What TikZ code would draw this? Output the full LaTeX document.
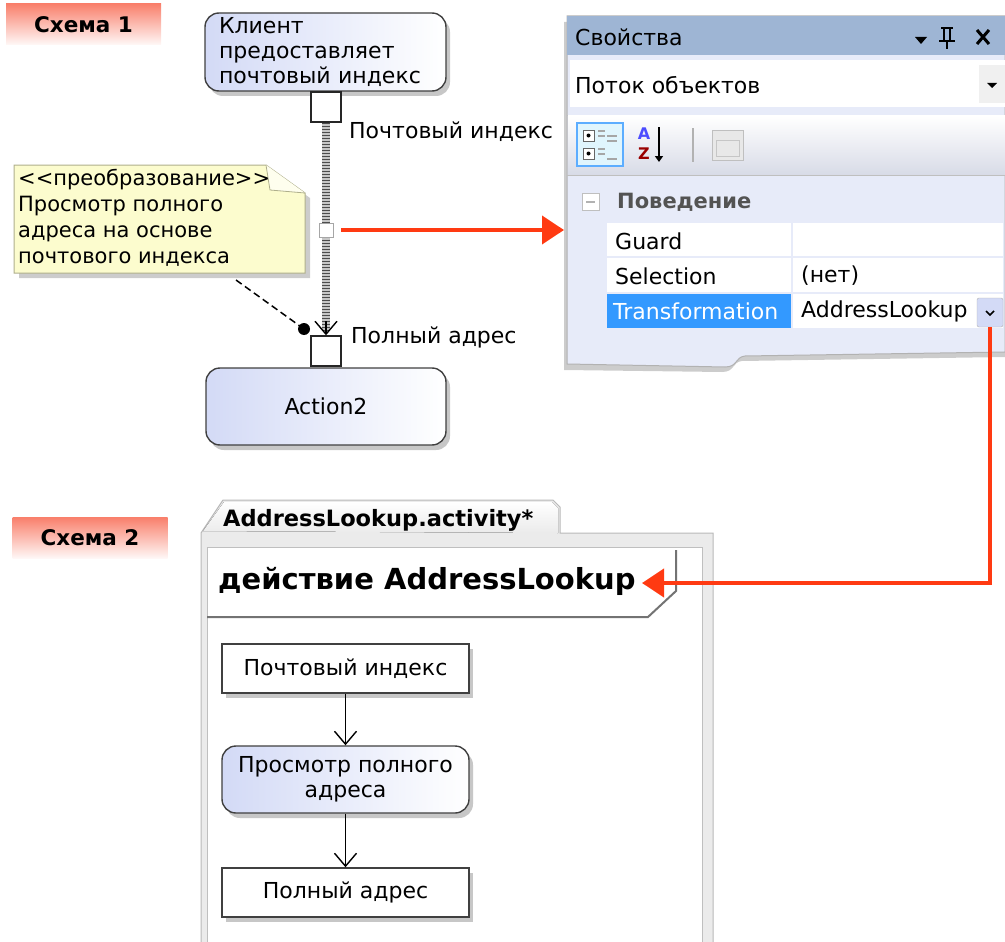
\documentclass[tikz,border=0pt]{standalone}
\usepackage{fontspec}
\setmainfont{DejaVu Sans}
\usetikzlibrary{arrows.meta,shadows}

\definecolor{actfill}{RGB}{211,218,246}
\definecolor{notefill}{RGB}{252,252,206}
\definecolor{noteline}{RGB}{175,175,140}
\definecolor{flowred}{RGB}{255,58,18}
\definecolor{tagred}{RGB}{249,128,108}
\definecolor{titlebar}{RGB}{158,181,212}
\definecolor{panelbg}{RGB}{231,235,249}
\definecolor{selblue}{RGB}{51,153,255}

\tikzset{
  txt/.style={font=\fontsize{22}{25}\selectfont},
  tag/.style={top color=tagred,bottom color=tagred!5,minimum width=155pt,minimum height=41pt,inner sep=0pt,font=\bfseries\fontsize{21.5}{24}\selectfont},
  action/.style={draw=black!75,line width=1.4pt,rounded corners=14pt,left color=actfill,right color=white,drop shadow={shadow xshift=4pt,shadow yshift=-5pt,fill=black!22,opacity=1},txt},
  objbox/.style={draw=black!75,line width=1.4pt,fill=white,minimum width=247pt,minimum height=49pt,drop shadow={shadow xshift=4pt,shadow yshift=-5pt,fill=black!22,opacity=1},txt},
  pin/.style={draw=black!85,line width=1.4pt,fill=white,minimum size=30pt,inner sep=0pt},
  flowarrow/.style={line width=1.4pt,-{Straight Barb[length=13pt,width=22pt]}},
  redarrow/.style={flowred,line width=4pt,-{Triangle[length=22pt,width=28pt]}},
  cell/.style={txt,anchor=west,inner sep=0pt},
}

\begin{document}
\begin{tikzpicture}[x=1pt,y=-1pt]
\path[use as bounding box] (0,0) rectangle (1005,942);
% Схема 1
\node[tag] (tag1) at (83.5,24.5) {Схема 1};
\node[action,minimum width=241pt,minimum height=78pt,inner xsep=14pt,text width=213pt,align=left] (client) at (325.5,52) {Клиент\\предоставляет\\почтовый индекс};
\node[action,minimum width=240pt,minimum height=77pt] (act2) at (326,406.5) {Action2};
\node[pin] (pinIn) at (326,107) {};
\node[pin] (pinOut) at (326,351) {};
\draw[gray!45,line width=8pt] (pinIn.south) -- ([yshift=5pt]pinOut.north);
\draw[black!70,line width=8pt,dash pattern=on 1.6pt off 1.4pt] (pinIn.south) -- ([yshift=5pt]pinOut.north);
\draw[flowarrow] ([yshift=14pt]pinOut.north) -- (pinOut.north);
\node[draw=gray!70,fill=white,minimum size=14pt,inner sep=0pt] (mid) at (326,230) {};
\node[cell] (lblIn) at (349,132) {Почтовый индекс};
\node[cell] (lblOut) at (351,337) {Полный адрес};
% примечание
\fill[black!20] (19,170) -- (271,170) -- (310,198) -- (310,278) -- (19,278) -- cycle;
\draw[noteline,fill=notefill,line width=1pt] (14,165) -- (266,165) -- (305,193) -- (305,273) -- (14,273) -- cycle;
\draw[noteline,fill=notefill!35!white,line width=.8pt] (266,165) -- (270,190) -- (305,193);
\node[anchor=north west,inner sep=0pt,align=left,font=\fontsize{21}{26}\selectfont] (note) at (18,169) {<\kern0pt<преобразование>\kern0pt>\\Просмотр полного\\адреса на основе\\почтового индекса};
\coordinate (noteFoot) at (236,280);
\coordinate (dot) at (304,329);
\draw[line width=1.5pt,dash pattern=on 7pt off 4pt] (noteFoot) -- (dot);
\fill (dot) circle (6pt);
\coordinate (panelEdge) at (564,230);
\draw[redarrow] ([xshift=8pt]mid.east) -- (panelEdge);
% окно свойств
\fill[black!20] (564,22) -- (1005,22) -- (1005,357) -- (742,361) .. controls (732,362) and (735,372) .. (722,372) -- (564,370) -- cycle;
\draw[gray!60,fill=panelbg,line width=1pt] (567,16) -- (1005,16) -- (1005,352) -- (745,356) .. controls (735,357) and (738,367) .. (725,367) -- (567,364) -- cycle;
\fill[titlebar] (567,16) rectangle (1005,55);
\node[cell] (title) at (575,37) {Свойства};
\fill (915,37) -- (927,37) -- (921,44) -- cycle;
\draw[line width=2pt] (941,28) -- (953,28) (944,28) -- (944,41) (950,28) -- (950,41) (939,41) -- (955,41) (947,41) -- (947,49);
\draw[line width=3pt] (977,30) -- (989,44) (989,30) -- (977,44);
\fill[white] (570,60) rectangle (1005,107);
\node[cell] (objtype) at (575,85) {Поток объектов};
\node[fill=gray!12,minimum width=26pt,minimum height=38pt,inner sep=0pt] (objbtn) at (992,84) {};
\fill (987,83) -- (997,83) -- (992,88) -- cycle;
\draw[gray!50] (567,115) -- (1005,115);
\fill[top color=white,bottom color=panelbg!85!gray] (568,116) rectangle (1005,175);
\draw[gray!50] (567,175) -- (1005,175);
\draw[selblue!80,fill=cyan!12,line width=1.5pt] (577,123) rectangle (623,166);
\draw[black!60,fill=white] (583,130) rectangle (594,141);
\draw[black!60,fill=white] (583,148) rectangle (594,159);
\fill (588.5,135.5) circle (2pt);
\fill (588.5,153.5) circle (2pt);
\draw[gray!70,line width=1.2pt] (598,131) -- (605,131) (598,136) -- (605,136) (607,136) -- (617,136) (607,141) -- (617,141) (598,149) -- (605,149) (598,154) -- (605,154) (607,159) -- (617,159);
\node[inner sep=0pt,text=blue!70,font=\bfseries\fontsize{16}{16}\selectfont] (azA) at (644,134) {A};
\node[inner sep=0pt,text=red!60!black,font=\bfseries\fontsize{16}{16}\selectfont] (azZ) at (644,154) {Z};
\draw[line width=2pt,-{Triangle[length=6pt,width=8pt]}] (659,127) -- (659,162);
\draw[gray!60,line width=1.2pt] (693,128) -- (693,162);
\draw[gray!50,fill=gray!18] (712,130) rectangle (743,160);
\draw[gray!45] (716,140) rectangle (739,156);
\draw[gray!50,fill=white] (582,193) rectangle (599,210);
\draw[gray!60,line width=2pt] (586,201.5) -- (595,201.5);
\node[cell,text=gray!65!black,font=\bfseries\fontsize{21}{25}\selectfont] (group) at (617,202) {Поведение};
\fill[white] (607,223) rectangle (1003,328);
\draw[panelbg,line width=2pt] (792,223) -- (792,328) (607,257) -- (1003,257) (607,293) -- (1003,293);
\fill[selblue] (607,294) rectangle (791,328);
\node[cell] (guard) at (615,241) {Guard};
\node[cell] (sel) at (615,276) {Selection};
\node[cell] (selval) at (801,276) {(нет)};
\node[cell,text=white] (trans) at (613,311) {Transformation};
\node[cell] (transval) at (801,311) {AddressLookup};
\node[draw=gray!60,fill=actfill,rounded corners=2pt,minimum width=26pt,minimum height=29pt,inner sep=0pt] (ddbtn) at (990,312.5) {};
\draw[line width=1.5pt] (986,311) -- (990,315) -- (994,311);
% Схема 2
\node[tag] (tag2) at (90,538) {Схема 2};
\draw[gray!55,fill=gray!16,line width=1pt] (201,942) -- (201,533) -- (223,500) -- (553,500) -- (560,507) -- (560,533) -- (713,533) -- (713,942);
\fill[top color=white,bottom color=gray!16] (203,531) -- (224,502) -- (552,502) -- (558,508) -- (558,533) -- cycle;
\draw[gray!50,fill=white] (207,547) rectangle (702,945);
\node[anchor=west,inner sep=0pt,font=\bfseries\fontsize{22.5}{24}\selectfont] (tabname) at (223,520) {AddressLookup.activity*};
\draw[black!55,line width=2pt] (676,550) -- (676,591) -- (648,617) -- (207,617);
\node[anchor=west,inner sep=0pt,font=\bfseries\fontsize{29}{32}\selectfont] (hdr) at (218,581) {действие AddressLookup};
\node[objbox] (zipBox) at (345.5,668.5) {Почтовый индекс};
\node[action,minimum width=247pt,minimum height=67pt,align=center] (lookup) at (345.5,779.5) {Просмотр полного\\адреса};
\node[objbox] (addrBox) at (345.5,892.5) {Полный адрес};
\draw[flowarrow] (zipBox.south) -- (lookup.north);
\draw[flowarrow] (lookup.south) -- (addrBox.north);
\coordinate (hdrTip) at (642,583);
\draw[redarrow] (ddbtn.south) |- (hdrTip);
\end{tikzpicture}
\end{document}
